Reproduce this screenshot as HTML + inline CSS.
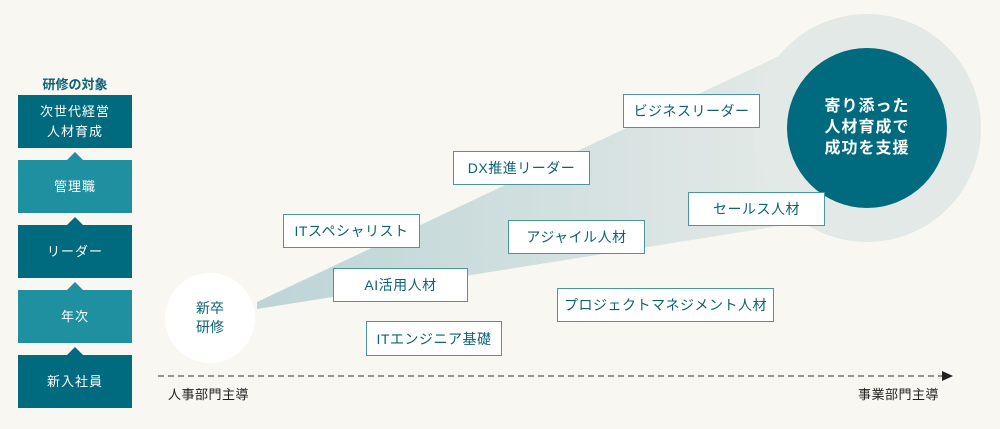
<!DOCTYPE html>
<html><head><meta charset="utf-8"><style>
body{margin:0;width:1000px;height:429px;background:#f8f7f1;overflow:hidden;position:relative;font-family:"Liberation Sans","Noto Sans CJK JP",sans-serif}
.a{position:absolute}
.lb{position:absolute;left:18px;width:114px;height:53px;display:flex;align-items:center;justify-content:center;text-align:center;color:#fff;font-size:13px;line-height:20px;letter-spacing:1px}
.d{background:#006a7e}.l{background:#1e90a0}
.tri{position:absolute;left:67px;width:0;height:0;border-left:8px solid transparent;border-right:8px solid transparent}
.bx{position:absolute;background:#fff;border:1.5px solid #4a95a2;box-sizing:border-box;height:34px;display:flex;align-items:center;justify-content:center;color:#0d6275;font-size:14px;letter-spacing:0.5px}
</style></head><body>
<svg class="a" style="left:0;top:0" width="1000" height="429">
<defs><linearGradient id="g" x1="257" y1="0" x2="830" y2="0" gradientUnits="userSpaceOnUse"><stop offset="0" stop-color="#bdd4d6"/><stop offset="1" stop-color="#e6ebe8"/></linearGradient></defs>
<polygon points="257,302 257,309 830,218 830,32" fill="url(#g)"/>
<circle cx="867" cy="128" r="114" fill="#e3e9e6"/>
<circle cx="867" cy="128" r="80" fill="#006a7e"/>
<circle cx="210" cy="318" r="45" fill="#fff"/>
<line x1="158" y1="376" x2="942" y2="376" stroke="#333" stroke-width="1" stroke-dasharray="6,4"/>
<polygon points="942,371 953,376 942,381" fill="#222"/>
</svg>
<div class="a" style="left:18px;top:74px;width:114px;text-align:center;color:#0d6275;font-weight:bold;font-size:13px">研修の対象</div>
<div class="lb d" style="top:95px">次世代経営<br>人材育成</div>
<div class="tri" style="top:152px;border-bottom:8px solid #1e90a0"></div>
<div class="lb l" style="top:160px">管理職</div>
<div class="tri" style="top:217px;border-bottom:8px solid #006a7e"></div>
<div class="lb d" style="top:225px">リーダー</div>
<div class="tri" style="top:282px;border-bottom:8px solid #1e90a0"></div>
<div class="lb l" style="top:290px">年次</div>
<div class="tri" style="top:347px;border-bottom:8px solid #006a7e"></div>
<div class="lb d" style="top:355px">新入社員</div>
<div class="a" style="left:165px;top:299px;width:90px;text-align:center;color:#0d6275;font-size:14px;line-height:19px">新卒<br>研修</div>
<div class="a" style="left:787px;top:96px;width:160px;text-align:center;color:#fff;font-size:16px;font-weight:bold;line-height:21px;letter-spacing:1px">寄り添った<br>人材育成で<br>成功を支援</div>
<div class="bx" style="left:623px;top:94px;width:137px">ビジネスリーダー</div>
<div class="bx" style="left:453px;top:151px;width:137px">DX推進リーダー</div>
<div class="bx" style="left:283px;top:214px;width:137px">ITスペシャリスト</div>
<div class="bx" style="left:508px;top:220px;width:137px">アジャイル人材</div>
<div class="bx" style="left:688px;top:192px;width:137px">セールス人材</div>
<div class="bx" style="left:333px;top:268px;width:135px">AI活用人材</div>
<div class="bx" style="left:557px;top:288px;width:217px">プロジェクトマネジメント人材</div>
<div class="bx" style="left:366px;top:321px;width:136px;height:35px">ITエンジニア基礎</div>
<div class="a" style="left:168px;top:384px;color:#222;font-size:13px;letter-spacing:0.5px">人事部門主導</div>
<div class="a" style="left:858px;top:384px;color:#222;font-size:13px;letter-spacing:0.5px">事業部門主導</div>
</body></html>
